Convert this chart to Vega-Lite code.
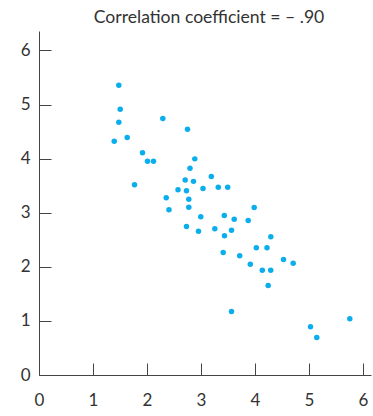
{
  "$schema": "https://vega.github.io/schema/vega-lite/v6.json",
  "autosize": {"type": "none"},
  "padding": {"left": 39, "top": 31, "right": 2, "bottom": 41},
  "width": 332,
  "height": 344,
  "title": {
    "text": "Correlation coefficient = – .90",
    "font": "Lato",
    "fontSize": 17.6,
    "fontWeight": "normal",
    "color": "#333333",
    "baseline": "alphabetic",
    "offset": -10,
    "dx": 4
  },
  "data": {
    "values": [
      {"x": 1.478, "y": 5.357}, {"x": 1.504, "y": 4.913}, {"x": 1.478, "y": 4.673},
      {"x": 1.393, "y": 4.322}, {"x": 1.633, "y": 4.39}, {"x": 2.293, "y": 4.741},
      {"x": 2.75, "y": 4.543}, {"x": 1.917, "y": 4.107}, {"x": 2.009, "y": 3.952},
      {"x": 2.12, "y": 3.952}, {"x": 1.769, "y": 3.516}, {"x": 2.885, "y": 3.996},
      {"x": 2.796, "y": 3.823}, {"x": 2.707, "y": 3.604}, {"x": 2.861, "y": 3.58},
      {"x": 3.191, "y": 3.669}, {"x": 3.037, "y": 3.447}, {"x": 3.32, "y": 3.471},
      {"x": 3.494, "y": 3.471}, {"x": 2.574, "y": 3.425}, {"x": 2.731, "y": 3.407},
      {"x": 2.356, "y": 3.275}, {"x": 2.774, "y": 3.25}, {"x": 2.407, "y": 3.055},
      {"x": 2.774, "y": 3.1}, {"x": 2.996, "y": 2.926}, {"x": 3.431, "y": 2.948},
      {"x": 3.615, "y": 2.88}, {"x": 3.985, "y": 3.096}, {"x": 3.874, "y": 2.856},
      {"x": 2.731, "y": 2.745}, {"x": 2.954, "y": 2.658}, {"x": 3.256, "y": 2.702},
      {"x": 3.565, "y": 2.677}, {"x": 3.435, "y": 2.573}, {"x": 4.293, "y": 2.555},
      {"x": 4.024, "y": 2.353}, {"x": 4.222, "y": 2.353}, {"x": 3.411, "y": 2.264},
      {"x": 3.717, "y": 2.203}, {"x": 3.913, "y": 2.048}, {"x": 4.528, "y": 2.135},
      {"x": 4.707, "y": 2.067}, {"x": 4.135, "y": 1.937}, {"x": 4.291, "y": 1.937},
      {"x": 4.244, "y": 1.654}, {"x": 3.565, "y": 1.174}, {"x": 5.028, "y": 0.891},
      {"x": 5.756, "y": 1.039}, {"x": 5.144, "y": 0.693}
    ]
  },
  "mark": {"type": "circle", "size": 30, "color": "#0BAEEC", "opacity": 1},
  "encoding": {
    "x": {
      "field": "x", "type": "quantitative",
      "scale": {"domain": [0, 6.148], "nice": false, "zero": false},
      "axis": {
        "title": null, "values": [0, 1, 2, 3, 4, 5, 6], "grid": false,
        "tickSize": -12, "labelPadding": 29, "labelFlush": false,
        "domainColor": "#444444", "tickColor": "#444444",
        "labelFont": "Lato", "labelFontSize": 17, "labelColor": "#333333"
      }
    },
    "y": {
      "field": "y", "type": "quantitative",
      "scale": {"domain": [0, 6.36], "nice": false, "zero": false},
      "axis": {
        "title": null, "values": [0, 1, 2, 3, 4, 5, 6], "grid": false,
        "tickSize": -12, "labelPadding": 21, "labelFlush": false,
        "domainColor": "#444444", "tickColor": "#444444",
        "labelFont": "Lato", "labelFontSize": 17, "labelColor": "#333333"
      }
    }
  },
  "config": {"view": {"stroke": null}}
}
